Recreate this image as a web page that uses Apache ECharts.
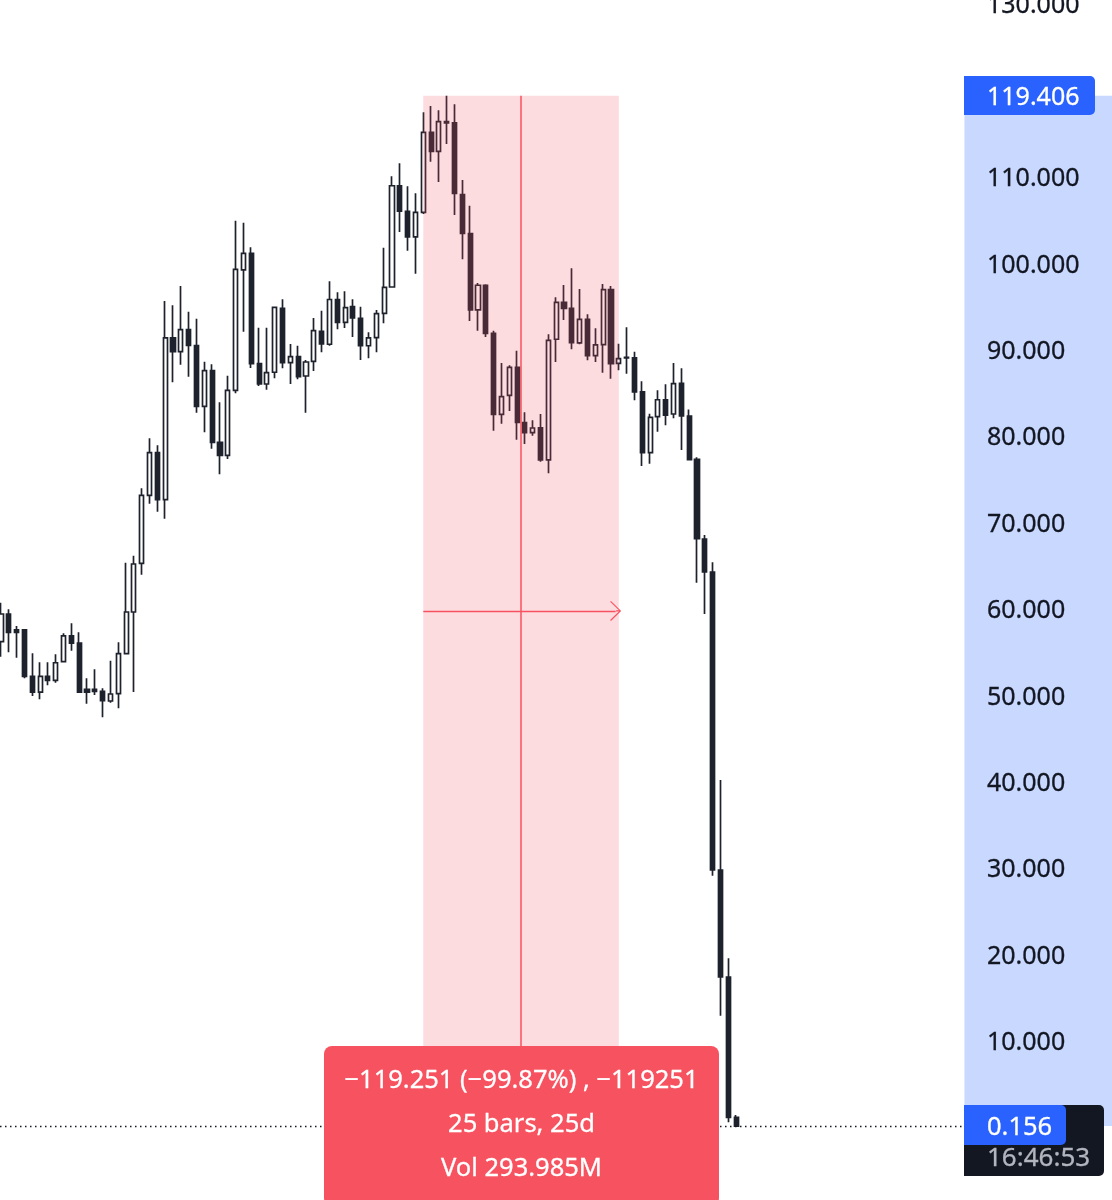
<!DOCTYPE html>
<html>
<head>
<meta charset="utf-8">
<style>html,body{margin:0;padding:0;background:#fff;overflow:hidden}#c{width:1112px;height:1200px}</style>
<script src="https://cdn.jsdelivr.net/npm/echarts@6/dist/echarts.min.js"></script>
</head>
<body>
<div id="c"></div>
<script>
const opens=[56.22,59.42,57.60,57.60,52.21,50.39,52.21,51.75,53.90,56.88,56.06,50.71,50.71,50.47,49.35,50.20,54.83,59.65,65.29,73.16,78.09,72.65,91.37,89.78,92.33,90.49,83.46,87.58,79.29,77.79,85.31,99.24,101.17,88.39,86.04,87.40,94.80,88.51,89.20,86.97,88.67,92.14,90.64,95.82,93.18,94.99,93.65,90.47,91.40,94.22,97.27,108.99,106.03,103.06,105.91,115.17,112.97,116.40,116.28,107.95,103.44,94.61,97.47,91.91,82.53,84.73,87.97,81.56,80.41,80.98,77.25,91.22,95.50,94.80,90.79,93.53,89.32,90.59,96.96,88.44,89.13,89.08,85.12,78.09,82.26,84.22,82.57,86.12,82.34,77.33,68.10,64.28,29.79,17.41,1.17];
const closes=[59.42,57.30,57.30,52.21,50.39,52.21,51.75,53.78,56.88,56.06,50.39,50.39,50.47,49.39,50.16,54.83,59.65,65.21,73.16,78.09,72.65,91.37,89.78,92.33,90.52,83.46,87.58,79.29,77.79,85.31,99.32,101.17,88.39,86.04,87.35,94.92,88.51,89.20,86.89,88.59,92.21,90.67,95.82,93.18,94.87,93.68,90.47,91.37,94.18,97.23,108.99,106.06,103.06,105.91,115.17,112.97,116.40,116.25,108.11,103.48,94.61,97.47,91.91,82.53,84.57,87.97,81.61,80.41,80.95,77.25,91.10,95.50,94.80,90.82,93.53,89.32,90.56,96.96,88.39,88.97,89.05,85.12,78.09,82.19,84.22,82.45,86.08,82.34,77.28,68.14,64.28,29.79,17.41,1.17,0.156];
const lows=[54.48,54.99,54.36,51.98,49.93,49.55,51.17,51.47,53.90,55.17,50.31,49.04,50.05,47.47,49.16,48.51,54.76,50.39,63.97,72.19,71.26,70.45,86.24,88.28,86.89,82.72,80.45,78.55,75.59,77.36,84.97,92.09,87.89,85.81,85.38,86.70,87.86,86.04,86.59,82.72,87.55,89.71,90.47,92.37,92.52,91.48,88.82,89.02,89.71,93.07,97.19,103.63,101.47,98.81,105.72,111.77,109.42,113.82,105.60,100.47,93.33,92.21,91.48,80.64,81.45,82.92,79.59,79.10,80.06,77.05,75.71,88.59,93.45,90.06,90.64,88.78,88.59,87.35,86.65,87.63,87.23,84.15,76.55,76.82,80.52,81.26,82.07,78.40,77.25,63.04,59.42,29.13,12.93,0.59,0.10];
const highs=[60.73,59.97,58.03,57.68,54.87,53.83,53.83,54.76,57.19,58.34,57.30,51.98,53.02,50.82,54.02,56.15,65.36,66.17,73.97,79.76,78.95,95.65,95.15,97.38,94.41,93.60,88.62,88.32,83.92,87.00,104.94,104.71,101.86,92.56,92.56,94.99,95.84,90.67,90.47,88.82,93.68,94.53,97.93,96.66,96.77,95.84,94.99,92.03,94.61,101.82,110.08,111.59,108.92,108.11,117.49,118.22,117.72,119.41,118.41,109.65,106.68,97.73,97.58,92.21,88.47,88.21,89.90,82.77,81.84,82.57,91.79,96.08,97.50,99.43,97.04,94.11,92.49,97.62,97.38,90.71,92.60,89.78,86.35,82.60,85.31,86.01,88.47,87.86,83.09,77.56,68.56,65.41,40.21,19.57,1.44];

const rangeHigh=119.406, rangeLow=0.156, rangeMid=59.78;
const rangeStartBar=54, rangeEndBar=79, rangeMidBar=66.5;
const scaleStartBar=123.2;
const xMin=-0.128, xMax=142.07;
const measureLines=['\u2212119.251 (\u221299.87%) , \u2212119251','25 bars, 25d','Vol 293.985M'];
const highTag='119.406', lowTag='0.156', countdown='16:46:53';

const FONT='"Noto Sans"';
const RED='#f7525f', BLUE='#2962ff', INK='#131722';
const candles=opens.map((o,i)=>[i,o,closes[i],lows[i],highs[i]]);
const chevron='path://M0,0 L10,10 L9.2,10.8 L0.6,2.2 L0.6,5 L-0.6,5 L-0.6,2.2 L-9.2,10.8 L-10,10 Z';

const chart=echarts.init(document.getElementById('c'),null,{renderer:'canvas'});
chart.setOption({
  animation:false,
  backgroundColor:'#ffffff',
  grid:{left:0,width:1112,top:4.2,height:1209.6,outerBoundsMode:'none',containLabel:false},
  xAxis:{type:'value',min:xMin,max:xMax,show:false,splitLine:{show:false}},
  yAxis:{type:'value',min:-10,max:130,interval:10,position:'right',offset:-125,z:10,
    axisLine:{show:false},axisTick:{show:false},splitLine:{show:false},
    axisLabel:{margin:0,color:INK,fontFamily:FONT,fontSize:25,verticalAlign:'top',lineHeight:4,showMinLabel:true,showMaxLabel:true,hideOverlap:false,
      textBorderColor:INK,textBorderWidth:0.3,
      formatter:v=>(v<=0||v===120)?'':v.toFixed(3)}},
  series:[{
    type:'candlestick',
    data:candles,
    barWidth:4.6,
    clip:false,
    itemStyle:{color:'#ffffff',color0:'#1e222d',borderColor:'#1e222d',borderColor0:'#1e222d',borderWidth:1.7},
    markArea:{silent:true,z:5,data:[
      [{xAxis:rangeStartBar,yAxis:rangeHigh,itemStyle:{color:'rgba(247,82,95,0.2)'}},{xAxis:rangeEndBar,yAxis:rangeLow}],
      [{xAxis:scaleStartBar,yAxis:rangeHigh,itemStyle:{color:'rgba(41,98,255,0.25)'}},{xAxis:xMax,yAxis:rangeLow}]
    ]},
    markLine:{silent:true,z:6,animation:false,symbol:'none',label:{show:false},data:[
      [{xAxis:rangeMidBar,yAxis:rangeHigh,lineStyle:{color:RED,width:1.5,type:'solid'}},{xAxis:rangeMidBar,yAxis:rangeLow}],
      [{xAxis:rangeStartBar,yAxis:rangeMid,lineStyle:{color:RED,width:1.4,type:'solid'},symbol:'none'},{xAxis:78.6,yAxis:rangeMid,symbol:chevron,symbolSize:[20,11]}],
      [{xAxis:xMin,yAxis:rangeLow,lineStyle:{color:INK,width:1.3,type:[1.5,3.5]}},{xAxis:scaleStartBar,yAxis:rangeLow}]
    ]}
  }],
  graphic:{elements:[
    {type:'rect',z:20,shape:{x:324,y:1046,width:395,height:160,r:8},style:{fill:RED}},
    ...measureLines.map((t,k)=>({type:'text',z:21,style:{x:521.5,y:1081+44*k,text:t,fill:'#fff',font:'25.5px '+FONT,align:'center',verticalAlign:'middle',stroke:'#fff',lineWidth:0.3}})),
    {type:'rect',z:20,shape:{x:964,y:76,width:131,height:39,r:[0,5,5,0]},style:{fill:BLUE}},
    {type:'text',z:21,style:{x:987,y:98,text:highTag,fill:'#fff',font:'25px '+FONT,verticalAlign:'middle',stroke:'#fff',lineWidth:0.3}},
    {type:'rect',z:20,shape:{x:964,y:1105,width:140,height:71,r:[0,5,5,0]},style:{fill:INK}},
    {type:'rect',z:20,shape:{x:964,y:1105,width:102,height:40,r:[0,5,5,0]},style:{fill:BLUE}},
    {type:'text',z:21,style:{x:987,y:1128,text:lowTag,fill:'#fff',font:'25.5px '+FONT,verticalAlign:'middle',stroke:'#fff',lineWidth:0.3}},
    {type:'text',z:21,style:{x:987,y:1159,text:countdown,fill:'#b2b5be',font:'26px '+FONT,verticalAlign:'middle',stroke:'#b2b5be',lineWidth:0.3}}
  ]}
});
</script>
</body>
</html>
